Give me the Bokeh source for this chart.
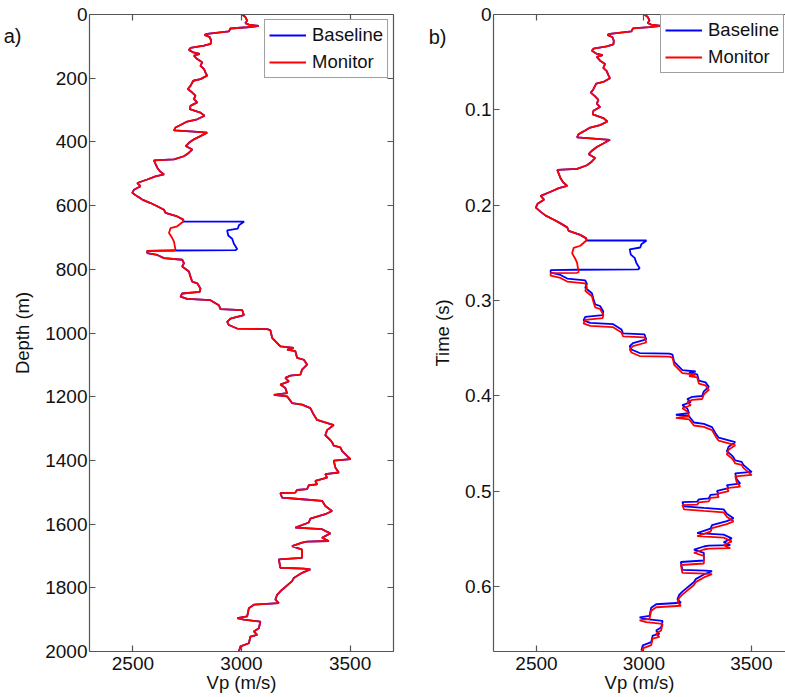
import numpy as np
from bokeh.plotting import figure
from bokeh.models import Range1d, LinearAxis, FixedTicker, Legend, LegendItem
from bokeh.layouts import row
from bokeh.embed import file_html
from bokeh.resources import INLINE

# ---------------- data ----------------
depth_m = [
    0, 8, 19, 27, 32, 36, 40, 44, 53, 61,
    64, 71, 82, 92, 98, 105, 111, 119, 124, 129,
    140, 150, 161, 171, 182, 192, 203, 208, 224, 234,
    245, 255, 266, 276, 287, 297, 308, 318, 329, 336,
    347, 355, 364, 368, 371, 382, 392, 403, 413, 424,
    434, 445, 455, 458, 469, 481, 492, 502, 508, 518,
    529, 539, 550, 560, 571, 581, 592, 602, 613, 623,
    634, 644, 650, 665, 671, 686, 702, 713, 739, 741,
    742, 749, 755, 765, 770, 781, 791, 807, 823, 839,
    844, 860, 871, 876, 886, 893, 897, 913, 925, 928,
    944, 955, 965, 975, 986, 988, 991, 1015, 1042, 1047,
    1052, 1057, 1078, 1084, 1099, 1115, 1131, 1134, 1141, 1152,
    1162, 1173, 1189, 1194, 1199, 1220, 1225, 1236, 1257, 1273,
    1289, 1305, 1321, 1336, 1343, 1354, 1359, 1370, 1391, 1396,
    1401, 1422, 1438, 1443, 1454, 1464, 1475, 1478, 1490, 1493,
    1501, 1503, 1517, 1522, 1527, 1543, 1559, 1569, 1583, 1595,
    1611, 1616, 1629, 1643, 1653, 1655, 1658, 1669, 1680, 1706,
    1711, 1737, 1740, 1742, 1753, 1769, 1779, 1811, 1822, 1837,
    1848, 1853, 1864, 1890, 1895, 1900, 1906, 1927, 1937, 1948,
    1953, 1974, 1984, 2000,
]
vp_monitor = [
    3003, 3018, 3026, 3018, 3034, 3080, 3026, 2949, 2942, 2842,
    2830, 2854, 2860, 2858, 2827, 2765, 2758, 2778, 2808, 2781,
    2796, 2819, 2811, 2827, 2834, 2842, 2811, 2778, 2765, 2753,
    2773, 2788, 2781, 2796, 2765, 2762, 2811, 2830, 2796, 2750,
    2719, 2696, 2689, 2781, 2842, 2811, 2781, 2758, 2743, 2773,
    2758, 2735, 2689, 2597, 2604, 2612, 2624, 2643, 2604, 2566,
    2520, 2535, 2505, 2497, 2520, 2543, 2581, 2612, 2643, 2650,
    2704, 2732, 2732, 2704, 2673, 2666, 2681, 2689, 2696, 2689,
    2566, 2566, 2612, 2643, 2727, 2735, 2727, 2758, 2765, 2773,
    2796, 2811, 2808, 2727, 2719, 2750, 2857, 2896, 2903, 3003,
    3011, 2949, 2934, 2942, 2980, 3118, 3133, 3141, 3179, 3241,
    3210, 3248, 3256, 3287, 3302, 3279, 3271, 3225, 3202, 3218,
    3179, 3202, 3210, 3149, 3210, 3233, 3279, 3317, 3333, 3348,
    3425, 3394, 3386, 3409, 3417, 3425, 3455, 3463, 3494, 3502,
    3425, 3432, 3448, 3386, 3394, 3340, 3348, 3310, 3302, 3256,
    3248, 3179, 3187, 3279, 3371, 3386, 3417, 3386, 3317, 3310,
    3248, 3371, 3409, 3371, 3402, 3302, 3279, 3233, 3279, 3279,
    3172, 3179, 3287, 3317, 3279, 3241, 3233, 3179, 3164, 3156,
    3172, 3057, 3034, 3026, 2980, 3011, 3087, 3080, 3057, 3072,
    3041, 3034, 2995, 2988,
]
# baseline differs from monitor only inside the reservoir zone
zone_depth_m = [650, 655, 662, 672, 678, 694, 704, 720, 736, 740]
zone_vp_baseline = [3012, 3003, 2988, 2983, 2934, 2939, 2957, 2965, 2980, 2972]
zone_top_m, zone_base_m = 650, 741

depth_ticks = [0, 200, 400, 600, 800, 1000, 1200, 1400, 1600, 1800, 2000]
time_ticks = [0, 0.1, 0.2, 0.3, 0.4, 0.5, 0.6]
time_tick_labels = ["0", "0.1", "0.2", "0.3", "0.4", "0.5", "0.6"]
vp_ticks = [2500, 3000, 3500]
panel_tags = ["a)", "b)"]

assert len(depth_m) == len(vp_monitor)

d_mon = np.array(depth_m, float)
v_mon = np.array(vp_monitor, float)
above = d_mon <= zone_top_m
below = d_mon >= zone_base_m
d_base = np.concatenate([d_mon[above], zone_depth_m, d_mon[below]])
v_base = np.concatenate([v_mon[above], zone_vp_baseline, v_mon[below]])


def one_way_time(d, v):
    slow = 0.5 * (1.0 / v[1:] + 1.0 / v[:-1])
    return np.concatenate([[0.0], np.cumsum(np.diff(d) * slow)])


t_mon = one_way_time(d_mon, v_mon)
t_base = one_way_time(d_base, v_base)

# ---------------- styling ----------------
FONT = "Liberation Sans"
FS = "18.5px"
FS_TICK = "19px"
AXC = "#555555"
TXT = "#111111"
BLUE = "#0000FF"
RED = "#FF0000"
LW = 1.8
H = 697


def style_axis(ax, ticks, labels=True):
    ax.ticker = FixedTicker(ticks=ticks)
    ax.axis_line_color = AXC
    ax.axis_line_width = 1.2
    ax.major_tick_line_color = AXC
    ax.major_tick_line_width = 1.2
    ax.major_tick_in = 6
    ax.major_tick_out = 0
    ax.minor_tick_line_color = None
    ax.major_label_text_font = FONT
    ax.major_label_text_font_size = FS_TICK
    ax.major_label_text_color = TXT
    ax.axis_label_text_font = FONT
    ax.axis_label_text_font_size = FS
    ax.axis_label_text_font_style = "normal"
    ax.axis_label_text_color = TXT
    if not labels:
        ax.major_label_overrides = {t: "" for t in ticks}
        ax.major_label_standoff = 0


def add_tag(p, pos, text, standoff):
    # panel letter, drawn as the single label of an extra, invisible left axis
    ax = LinearAxis(ticker=FixedTicker(ticks=[pos]), major_label_overrides={pos: text})
    ax.axis_line_color = None
    ax.major_tick_line_color = None
    ax.minor_tick_line_color = None
    ax.major_tick_in = 0
    ax.major_tick_out = 0
    ax.major_label_standoff = standoff
    ax.major_label_text_font = FONT
    ax.major_label_text_font_size = "20px"
    ax.major_label_text_color = TXT
    p.add_layout(ax, "left")


def make_legend(p, rb, rm, location):
    lg = Legend(items=[LegendItem(label="Baseline", renderers=[rb]),
                       LegendItem(label="Monitor", renderers=[rm])],
                location=location)
    lg.margin = 5
    lg.padding = 4
    lg.spacing = 5
    lg.glyph_width = 37
    lg.glyph_height = 20
    lg.label_height = 20
    lg.label_standoff = 6
    lg.label_text_font = FONT
    lg.label_text_font_size = FS
    lg.label_text_color = TXT
    lg.border_line_color = "#404040"
    lg.border_line_width = 1
    lg.background_fill_color = "white"
    lg.background_fill_alpha = 1.0
    p.add_layout(lg)


# ---------------- panel a) depth ----------------
p1 = figure(width=425, height=H, x_range=Range1d(2300, 3700), y_range=Range1d(2000, 0),
            output_backend="svg", toolbar_location=None,
            min_border_left=89, min_border_right=32, min_border_top=14, min_border_bottom=46)
p1.outline_line_color = None
p1.grid.visible = False
rb1 = p1.line(v_base, d_base, line_color=BLUE, line_width=LW)
rm1 = p1.line(v_mon, d_mon, line_color=RED, line_width=LW)
style_axis(p1.xaxis[0], vp_ticks)
style_axis(p1.yaxis[0], depth_ticks)
p1.xaxis.axis_label = "Vp (m/s)"
p1.yaxis.axis_label = "Depth (m)"
p1.xaxis.major_label_standoff = 5
p1.xaxis.axis_label_standoff = -1
p1.yaxis.major_label_standoff = 2
p1.yaxis.axis_label_standoff = 9
ax_top1 = LinearAxis()
style_axis(ax_top1, vp_ticks, labels=False)
p1.add_layout(ax_top1, "above")
ax_right1 = LinearAxis()
style_axis(ax_right1, depth_ticks, labels=False)
p1.add_layout(ax_right1, "right")
make_legend(p1, rb1, rm1, "top_right")
add_tag(p1, 69, panel_tags[0], -12)

# ---------------- panel b) time ----------------
p2 = figure(width=360, height=H, x_range=Range1d(2300, 3659), y_range=Range1d(0.668, 0),
            output_backend="svg", toolbar_location=None,
            min_border_left=65, min_border_right=0, min_border_top=14, min_border_bottom=46)
p2.outline_line_color = None
p2.grid.visible = False
rb2 = p2.line(v_base, t_base, line_color=BLUE, line_width=LW)
rm2 = p2.line(v_mon, t_mon, line_color=RED, line_width=LW)
style_axis(p2.xaxis[0], vp_ticks)
style_axis(p2.yaxis[0], time_ticks)
p2.yaxis.major_label_overrides = dict(zip(time_ticks, time_tick_labels))
p2.xaxis.axis_label = "Vp (m/s)"
p2.yaxis.axis_label = "Time (s)"
p2.xaxis.major_label_standoff = 5
p2.xaxis.axis_label_standoff = -1
p2.yaxis.major_label_standoff = 2
p2.yaxis.axis_label_standoff = 9
ax_top2 = LinearAxis()
style_axis(ax_top2, vp_ticks, labels=False)
p2.add_layout(ax_top2, "above")
make_legend(p2, rb2, rm2, (167, 578))
add_tag(p2, 0.0231, panel_tags[1], -17)

layout = row(p1, p2)
open("out.html", "w").write(file_html(layout, INLINE))
